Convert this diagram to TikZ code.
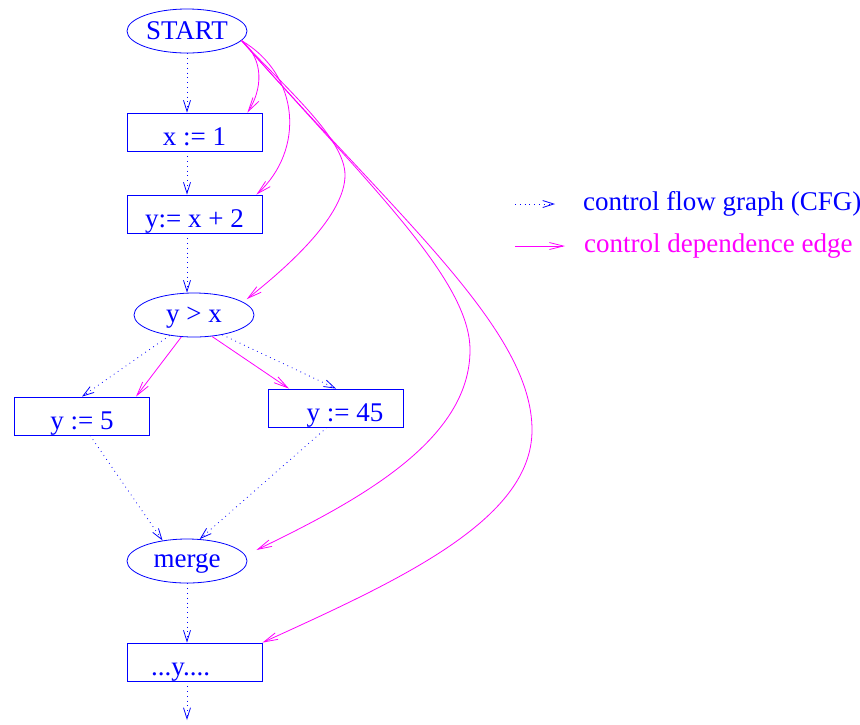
\documentclass[tikz,border=0pt]{standalone}
\usepackage{fontspec}
\setmainfont{Liberation Serif}
\usetikzlibrary{arrows.meta}
\usetikzlibrary{shapes.geometric}
\usetikzlibrary{positioning}
\definecolor{kfblau}{RGB}{0,0,255}
\definecolor{kamagenta}{RGB}{255,0,255}
\tikzset{
  Pfeil/.style={thin,-{Straight Barb[length=#1,width=3.5pt]}}, % Grundpfeil
  KFPfeil/.style={kfblau,dotted,Pfeil=5.5pt}, % Kontrollfluss
  KAPfeil/.style={kamagenta,Pfeil=7pt}, % Kontrollabhaengigkeit
  Block/.style={draw=kfblau,text=kfblau,rectangle,inner sep=0pt,
    minimum width=67.5pt,minimum height=19pt,text height=13pt,text depth=0pt},
  Test/.style={draw=kfblau,text=kfblau,ellipse,inner sep=0pt,
    minimum width=60pt,minimum height=22pt,text depth=0pt}
}

\begin{document}
\begin{tikzpicture}[
x=0.5pt, y=-0.5pt, % Pixelraster
font=\fontsize{13.5pt}{16pt}\selectfont
]
\useasboundingbox (0,0) rectangle (860,724);

%Knoten
\node[Test]  (start) at (187,31)    {START};
\node[Block] (x1)    at (194.5,132) {x := 1};
\node[Block] (y2)    at (194.5,214) {y:= x + 2};
\node[Test]  (test)  at (194,315)   {y > x};
\node[Block] (y5)    at (82,416)    {y := 5};
\node[Block] (y45)   at (336,408)   {\kern9pt y := 45};
\node[Test]  (merge) at (187,561)   {merge};
\node[Block] (use)   at (194.5,662) {...y....\kern14pt};
\coordinate (ende) at (187,720);

%Kontrollfluss
\draw[KFPfeil] (start.south) -- (start.south |- x1.north);
\draw[KFPfeil] (start.south |- x1.south) -- (start.south |- y2.north);
\draw[KFPfeil] (start.south |- y2.south) -- (start.south |- test.north);
\draw[KFPfeil] (test.-140) -- (y5.north);
\draw[KFPfeil] (test.-35) -- (y45.north);
\draw[KFPfeil] ([xshift=4pt]y5.south) -- (merge.140);
\draw[KFPfeil] ([xshift=-4.5pt]y45.south) -- (merge.60);
\draw[KFPfeil] (merge.south) -- (merge.south |- use.north);
\draw[KFPfeil] (ende |- use.south) -- (ende);

%Kontrollabhaengigkeit
\draw[KAPfeil] (start.-10) .. controls (265,60) and (262,90) .. ([xshift=-7.5pt]x1.north east);
\draw[KAPfeil] (start.-10) .. controls (300,75) and (305,150) .. ([xshift=-3pt]y2.north east);
\draw[KAPfeil] (start.-10) .. controls (290,92) and (345,140) .. (345,175)
  .. controls (345,215) and (290,265) .. ([xshift=5pt]test.north east);
\draw[KAPfeil] (start.-10) .. controls (370,186) and (470,280) .. (470,350)
  .. controls (470,440) and (360,500) .. ([shift={(4.5pt,5.5pt)}]merge.east);
\draw[KAPfeil] (start.-10) .. controls (400,220) and (532,330) .. (532,430)
  .. controls (532,520) and (400,580) .. (use.north east);
\draw[KAPfeil] (test.-120) -- ([xshift=27pt]y5.north);
\draw[KAPfeil] (test.-50) -- ([xshift=-23.5pt]y45.north);

%Legende
\coordinate (kfA) at (515,204);
\coordinate[right=20pt of kfA] (kfB);
\node[text=kfblau, right=10.5pt of kfB] (kftxt) {control flow graph (CFG)};
\draw[KFPfeil] (kfA) -- (kfB);

\coordinate (kaA) at (515,246);
\coordinate[right=25pt of kaA] (kaB);
\node[text=kamagenta, right=6pt of kaB] (katxt) {control dependence edge};
\draw[KAPfeil] (kaA) -- (kaB);

\end{tikzpicture}
\end{document}
